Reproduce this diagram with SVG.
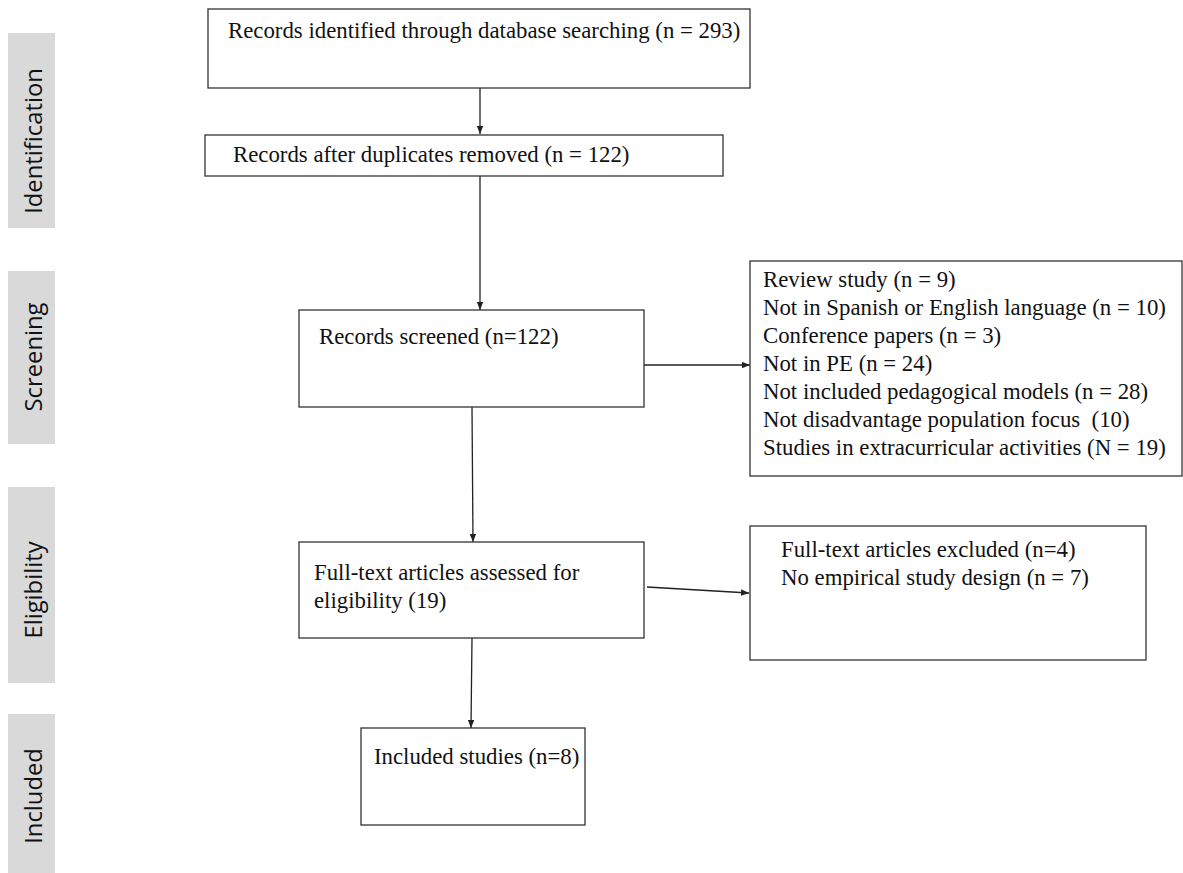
<svg xmlns="http://www.w3.org/2000/svg" width="1183" height="873" viewBox="0 0 1183 873">
<style>
.box{fill:#fff;stroke:#333;stroke-width:1.3}
.t{font-family:"Liberation Serif","Times New Roman",serif;font-size:22.8px;fill:#111}
.bar{fill:#d9d9d9}
.side{font-family:"Open Sans","Noto Sans",sans-serif;font-size:23.8px;fill:#111;text-anchor:middle}
.c{stroke:#222;stroke-width:1.3;fill:none;marker-end:url(#ah)}
</style>
<defs>
<marker id="ah" viewBox="0 0 10 8" refX="10" refY="4" markerWidth="8" markerHeight="6.4" markerUnits="userSpaceOnUse" orient="auto">
<path d="M0,0 L10,4 L0,8 Z" fill="#222"/>
</marker>
</defs>
<rect width="1183" height="873" fill="#fff"/>
<g id="stages">
<g id="stage-identification"><rect class="bar" x="8" y="33" width="47" height="195"/><text class="side" transform="translate(42,141) rotate(-90)">Identification</text></g>
<g id="stage-screening"><rect class="bar" x="8" y="271" width="47" height="173"/><text class="side" transform="translate(42,357) rotate(-90)">Screening</text></g>
<g id="stage-eligibility"><rect class="bar" x="8" y="487" width="47" height="196"/><text class="side" transform="translate(42,590) rotate(-90)">Eligibility</text></g>
<g id="stage-included"><rect class="bar" x="8" y="714" width="47" height="159"/><text class="side" transform="translate(42,796) rotate(-90)">Included</text></g>
</g>
<g id="connectors">
<line class="c" x1="480" y1="88" x2="480" y2="134"/>
<line class="c" x1="480" y1="176" x2="480" y2="310"/>
<line class="c" x1="641" y1="365" x2="750" y2="365"/>
<line class="c" x1="472" y1="407" x2="473" y2="542"/>
<line class="c" x1="647" y1="587" x2="749" y2="593"/>
<line class="c" x1="472" y1="638" x2="471" y2="728"/>
</g>
<g id="n1"><rect class="box" x="208" y="9" width="542" height="79"/><text class="t" x="228" y="38">Records identified through database searching (n = 293)</text></g>
<g id="n2"><rect class="box" x="205" y="135" width="518" height="41"/><text class="t" x="233" y="162">Records after duplicates removed (n = 122)</text></g>
<g id="n3"><rect class="box" x="299" y="310" width="345" height="97"/><text class="t" x="319" y="344">Records screened (n=122)</text></g>
<g id="n4"><rect class="box" x="750" y="261" width="432" height="215"/>
<text class="t" x="763" y="287">Review study (n = 9)</text>
<text class="t" x="763" y="315">Not in Spanish or English language (n = 10)</text>
<text class="t" x="763" y="343">Conference papers (n = 3)</text>
<text class="t" x="763" y="371">Not in PE (n = 24)</text>
<text class="t" x="763" y="399">Not included pedagogical models (n = 28)</text>
<text class="t" x="763" y="427" xml:space="preserve">Not disadvantage population focus  (10)</text>
<text class="t" x="763" y="455">Studies in extracurricular activities (N = 19)</text>
</g>
<g id="n5"><rect class="box" x="299" y="542" width="345" height="96"/>
<text class="t" x="314" y="580">Full-text articles assessed for</text>
<text class="t" x="314" y="608">eligibility (19)</text>
</g>
<g id="n6"><rect class="box" x="750" y="526" width="396" height="134"/>
<text class="t" x="781" y="557">Full-text articles excluded (n=4)</text>
<text class="t" x="781" y="585">No empirical study design (n = 7)</text>
</g>
<g id="n7"><rect class="box" x="361" y="728" width="224" height="97"/><text class="t" x="374" y="764">Included studies (n=8)</text></g>
</svg>
